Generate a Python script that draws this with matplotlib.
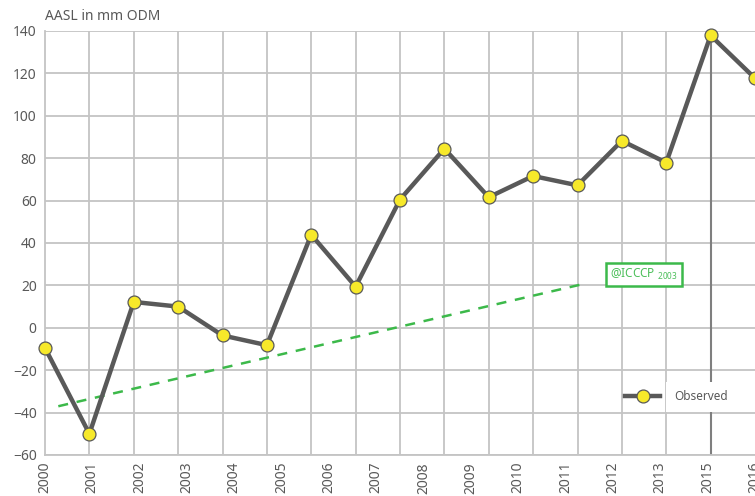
import matplotlib
matplotlib.use('Agg')
import matplotlib.pyplot as plt
import numpy as np

plt.rcParams['font.family'] = ['Noto Sans', 'DejaVu Sans']

years = [2000, 2001, 2002, 2003, 2004, 2005, 2006, 2007, 2008,
         2009, 2010, 2011, 2012, 2013, 2014, 2015, 2016]
observed = [-9.5, -50, 12.2, 10, -3.6, -8.2, 43.9, 19.4, 60.5,
            84.5, 61.6, 71.6, 67.2, 88.2, 77.9, 137.9, 117.7]

tick_labels = ['2000', '2001', '2002', '2003', '2004', '2005', '2006', '2007',
               '2008', '2009', '2010', '2011', '2012', '2013', '2015', '2016']

trend_x = [2000.3, 2012.2]
trend_y = [-37, 21]

marker_year = 2015

grey = '#595959'
grid_c = '#c4c4c4'
green = '#3cb94a'

fig = plt.figure(figsize=(7.55, 4.96), dpi=100)
ax = fig.add_axes([45 / 755, 1 - 455 / 496, 1 - 45 / 755, (455 - 31) / 496])

ax.set_xlim(2000, 2016)
ax.set_ylim(-60, 140)
ax.set_yticks(np.arange(-60, 141, 20))
ax.set_xticks(years, minor=True)
ax.set_xticks(np.linspace(2000, 2016, len(tick_labels)))
ax.set_xticklabels(tick_labels, rotation=90)

ax.grid(True, which='minor', axis='x', color=grid_c, linewidth=1.3)
ax.grid(True, which='major', axis='y', color=grid_c, linewidth=1.3)
ax.set_axisbelow(True)
ax.tick_params(which='both', length=0, colors=grey, labelsize=10, pad=6)
ax.tick_params(axis='x', pad=5)
for s in ['top', 'right']:
    ax.spines[s].set_visible(False)
for s in ['left', 'bottom']:
    ax.spines[s].set_color(grid_c)
    ax.spines[s].set_linewidth(1.3)

ax.axvline(marker_year, color='#7f7f7f', linewidth=1.5, zorder=1.5)

ax.plot(trend_x, trend_y, color=green, linestyle=(0, (4, 3.5)),
        linewidth=1.8, zorder=2, clip_on=False)

line, = ax.plot(years, observed, color=grey, linewidth=3.2, marker='o',
                markersize=9.3, markerfacecolor='#f7e92a', markeredgecolor=grey,
                markeredgewidth=0.9, label='Observed', zorder=3, clip_on=False)

ax.text(2013.5, 25, r'@ICCCP $\mathregular{_{2003}}$', color='#4cbf5a',
        fontsize=8.5, ha='center', va='center',
        bbox=dict(boxstyle='square,pad=0.35', facecolor='white',
                  edgecolor=green, linewidth=1.8))

# legend: handle drawn over the grid, only the label sits on a white patch
leg = ax.legend(loc='center left', bbox_to_anchor=(0.817, 0.1375),
                frameon=False, fontsize=8.5, handlelength=3.0,
                handletextpad=1.2, borderpad=0, borderaxespad=0)
leg.set_zorder(5)
for t in leg.get_texts():
    t.set_color(grey)
    t.set_bbox(dict(facecolor='white', edgecolor='none', pad=6))

fig.text(45 / 755, 1 - 17 / 496, 'AASL in mm ODM', color=grey, fontsize=10,
         ha='left', va='center')

fig.savefig('out.png', dpi=100)
